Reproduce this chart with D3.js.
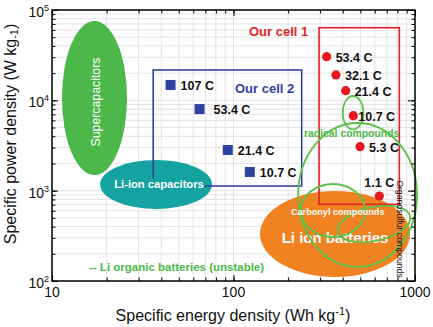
<!DOCTYPE html>
<html>
<head>
<meta charset="utf-8">
<script src="https://cdn.jsdelivr.net/npm/d3@7/dist/d3.min.js"></script>
<style>
body { margin: 0; background: #fff; }
text { font-family: "Liberation Sans", Arial, sans-serif; }
</style>
</head>
<body>
<div id="chart"></div>
<script>
// our cell 2 (blue squares)
var cell2Rates = ["107 C", "53.4 C", "21.4 C", "10.7 C"];
var cell2Energy = [45, 65, 93, 123];
var cell2Power = [14800, 8000, 2820, 1610];

// our cell 1 (red circles)
var cell1Rates = ["53.4 C", "32.1 C", "21.4 C", "10.7 C", "5.3 C", "1.1 C"];
var cell1Energy = [326, 367, 415, 457, 498, 636];
var cell1Power = [30400, 19100, 12800, 6760, 3070, 873];

// boxes around each cell: [energy min, energy max, power min, power max]
var cell2Box = [36.1, 237.5, 1126, 21680];
var cell1Box = [296, 820, 706, 63700];

// device regions, same layout
var regionNames = ["Supercapacitors", "Li-ion capacitors", "Li ion batteries"];
var regionBounds = [[11.35, 25.9, 1490, 75500], [18.4, 76.1, 627, 2186], [140, 939, 111, 991]];

// organic battery families (outlined)
var organicNames = ["radical (high rate)", "radical compounds", "Carbonyl compounds", "Organosulfur compounds"];
var organicBounds = [[400, 519, 4780, 11170], [227, 1026, 143, 5610], [235, 530, 307, 1185], [372, 950, 277, 659]];

var xTicks = [10, 100, 1000];
var yTicks = [100, 1000, 10000, 100000];
var yExp = ["2", "3", "4", "5"];

var W = 433, H = 327;
var x = d3.scaleLog().domain([10, 1000]).range([52, 415]);
var y = d3.scaleLog().domain([100, 100000]).range([281, 10]);

var svg = d3.select("#chart").append("svg")
    .attr("width", W)
    .attr("height", H);

// every log step 1..9 in each decade
var xMinor = [], yMinor = [];
[10, 100].forEach(function(d){ for (var k = 1; k < 10; k++) xMinor.push(d * k); });
xMinor.push(1000);
[100, 1000, 10000].forEach(function(d){ for (var k = 1; k < 10; k++) yMinor.push(d * k); });
yMinor.push(100000);

// grid
var grid = svg.append("g").attr("stroke", "#dcdcdc").attr("stroke-width", 0.8);
grid.selectAll(".gx").data(xMinor).enter().append("line")
    .attr("x1", function(d){ return x(d); }).attr("x2", function(d){ return x(d); })
    .attr("y1", y(100000)).attr("y2", y(100));
grid.selectAll(".gy").data(yMinor).enter().append("line")
    .attr("x1", x(10)).attr("x2", x(1000))
    .attr("y1", function(d){ return y(d); }).attr("y2", function(d){ return y(d); });

function box(b) {
    return { x: x(b[0]), y: y(b[3]), w: x(b[1]) - x(b[0]), h: y(b[2]) - y(b[3]) };
}
function ell(b) {
    var r = box(b);
    return { cx: r.x + r.w / 2, cy: r.y + r.h / 2, rx: r.w / 2, ry: r.h / 2 };
}

// filled device regions
var regionColors = ["#4cb849", "#14a3a0", "#f08222"];
var regions = svg.append("g");
regionBounds.forEach(function(b, i){
    var e = ell(b);
    regions.append("ellipse")
        .attr("cx", e.cx).attr("cy", e.cy).attr("rx", e.rx).attr("ry", e.ry)
        .attr("fill", regionColors[i]);
});

// cell boxes
var cb2 = box(cell2Box), cb1 = box(cell1Box);
svg.append("rect").attr("x", cb2.x).attr("y", cb2.y).attr("width", cb2.w).attr("height", cb2.h)
    .attr("fill", "none").attr("stroke", "#2e43a0").attr("stroke-width", 1.6);
svg.append("rect").attr("x", cb1.x).attr("y", cb1.y).attr("width", cb1.w).attr("height", cb1.h)
    .attr("fill", "none").attr("stroke", "#e31e24").attr("stroke-width", 1.6);

// region labels
var sc = ell(regionBounds[0]);
svg.append("text")
    .attr("transform", "translate(" + (sc.cx + 6) + "," + (sc.cy + 4) + ") rotate(-90)")
    .attr("text-anchor", "middle").attr("fill", "#fff")
    .style("font-size", "12.3px").text(regionNames[0]);

var lc = ell(regionBounds[1]);
var lcText = svg.append("text")
    .attr("x", lc.cx + 3).attr("y", lc.cy + 4)
    .attr("text-anchor", "middle").attr("fill", "#fff")
    .style("font-size", "11.2px").style("font-weight", "bold").text(regionNames[1]);
var bb = lcText.node().getBBox();
svg.insert("rect", function(){ return lcText.node(); })
    .attr("x", bb.x - 1).attr("y", bb.y).attr("width", bb.width + 2).attr("height", bb.height)
    .attr("fill", regionColors[1]);

var lb = ell(regionBounds[2]);
svg.append("text")
    .attr("x", lb.cx).attr("y", lb.cy + 9)
    .attr("text-anchor", "middle").attr("fill", "#fff")
    .style("font-size", "15px").style("font-weight", "bold").text(regionNames[2]);

// organic battery outlines
var outlines = svg.append("g").attr("fill", "none").attr("stroke", "#5cc04a").attr("stroke-width", 1.8);
organicBounds.forEach(function(b, i){
    var e = ell(b);
    var el = outlines.append("ellipse")
        .attr("cx", e.cx).attr("cy", e.cy).attr("rx", e.rx).attr("ry", e.ry);
    if (i == 3) el.attr("transform", "rotate(-12," + e.cx + "," + e.cy + ")");
});

svg.append("text").attr("x", 304).attr("y", 137)
    .attr("fill", "#4cb848").style("font-size", "10.4px").style("font-weight", "bold")
    .text(organicNames[1]);
svg.append("text").attr("x", 291).attr("y", 214.5)
    .attr("fill", "#fff").style("font-size", "9.1px").style("font-weight", "bold")
    .text(organicNames[2]);
svg.append("text")
    .attr("transform", "translate(397,229) rotate(90)")
    .attr("text-anchor", "middle").attr("fill", "#111")
    .style("font-size", "8.7px").text(organicNames[3]);

svg.append("text").attr("x", 89).attr("y", 271)
    .attr("fill", "#4cb848").style("font-size", "11.5px").style("font-weight", "bold")
    .text("-- Li organic batteries (unstable)");

svg.append("text").attr("x", 249).attr("y", 36)
    .attr("fill", "#e31e24").style("font-size", "13px").style("font-weight", "bold")
    .text("Our cell 1");
svg.append("text").attr("x", 235).attr("y", 93)
    .attr("fill", "#2e43a0").style("font-size", "13px").style("font-weight", "bold")
    .text("Our cell 2");

// cell 2 points
var c2 = svg.append("g");
c2.selectAll("rect").data(cell2Energy).enter().append("rect")
    .attr("x", function(d){ return x(d) - 5; })
    .attr("y", function(d, i){ return y(cell2Power[i]) - 5; })
    .attr("width", 10).attr("height", 10)
    .attr("fill", "#2e43a0");
c2.selectAll("text").data(cell2Rates).enter().append("text")
    .attr("x", function(d, i){ return x(cell2Energy[i]) + (i == 1 ? 14 : 10); })
    .attr("y", function(d, i){ return y(cell2Power[i]) + 5; })
    .style("font-size", "12.5px").style("font-weight", "bold").attr("fill", "#111")
    .text(function(d){ return d; });

// cell 1 points
var c1 = svg.append("g");
c1.selectAll("circle").data(cell1Energy).enter().append("circle")
    .attr("cx", function(d){ return x(d); })
    .attr("cy", function(d, i){ return y(cell1Power[i]); })
    .attr("r", 4.6)
    .attr("fill", "#e8161d");
c1.selectAll("text").data(cell1Rates).enter().append("text")
    .attr("x", function(d, i){ return i == 5 ? x(cell1Energy[i]) - 15 : x(cell1Energy[i]) + (i == 3 ? 5 : 9); })
    .attr("y", function(d, i){ return i == 5 ? y(cell1Power[i]) - 9 : y(cell1Power[i]) + 5; })
    .style("font-size", "12.5px").style("font-weight", "bold").attr("fill", "#111")
    .text(function(d){ return d; });

// axes: inward ticks on all four sides
function tickAxis(axis, vals, size, tr) {
    var g = svg.append("g").attr("transform", tr)
        .call(axis.tickValues(vals).tickSize(size).tickFormat(""));
    g.select(".domain").remove();
    g.selectAll("line").attr("stroke", "#000").attr("stroke-width", 1);
}
tickAxis(d3.axisBottom(x), xMinor, -3.5, "translate(0," + y(100) + ")");
tickAxis(d3.axisBottom(x), xTicks, -6, "translate(0," + y(100) + ")");
tickAxis(d3.axisTop(x), xMinor, -3.5, "translate(0," + y(100000) + ")");
tickAxis(d3.axisTop(x), xTicks, -6, "translate(0," + y(100000) + ")");
tickAxis(d3.axisLeft(y), yMinor, -3.5, "translate(" + x(10) + ",0)");
tickAxis(d3.axisLeft(y), yTicks, -6, "translate(" + x(10) + ",0)");
tickAxis(d3.axisRight(y), yMinor, -3.5, "translate(" + x(1000) + ",0)");
tickAxis(d3.axisRight(y), yTicks, -7, "translate(" + x(1000) + ",0)");

svg.append("rect")
    .attr("x", x(10)).attr("y", y(100000))
    .attr("width", x(1000) - x(10)).attr("height", y(100) - y(100000))
    .attr("fill", "none").attr("stroke", "#000").attr("stroke-width", 1.5);

// tick labels
svg.selectAll(".xl").data(xTicks).enter().append("text")
    .attr("x", function(d){ return x(d); }).attr("y", 297)
    .attr("text-anchor", "middle").style("font-size", "14px").attr("fill", "#111")
    .text(function(d){ return d; });

var yl = svg.selectAll(".yl").data(yTicks).enter().append("text")
    .attr("x", 49).attr("y", function(d){ return y(d) + 7; })
    .attr("text-anchor", "end").style("font-size", "14px").attr("fill", "#111");
yl.append("tspan").text("10");
yl.append("tspan").attr("dy", -6).style("font-size", "9px").text(function(d, i){ return yExp[i]; });

// axis titles
var xt = svg.append("text").attr("x", 233).attr("y", 321)
    .attr("text-anchor", "middle").style("font-size", "16px").attr("fill", "#111");
xt.append("tspan").text("Specific energy density (Wh kg");
xt.append("tspan").attr("dy", -6).style("font-size", "11px").text("-1");
xt.append("tspan").attr("dy", 6).text(")");

var yt = svg.append("text")
    .attr("transform", "translate(16,134) rotate(-90)")
    .attr("text-anchor", "middle").style("font-size", "16px").attr("fill", "#111");
yt.append("tspan").text("Specific power density (W kg");
yt.append("tspan").attr("dy", 2).style("font-size", "11px").text("-1");
yt.append("tspan").attr("dy", -2).text(")");
</script>
</body>
</html>
